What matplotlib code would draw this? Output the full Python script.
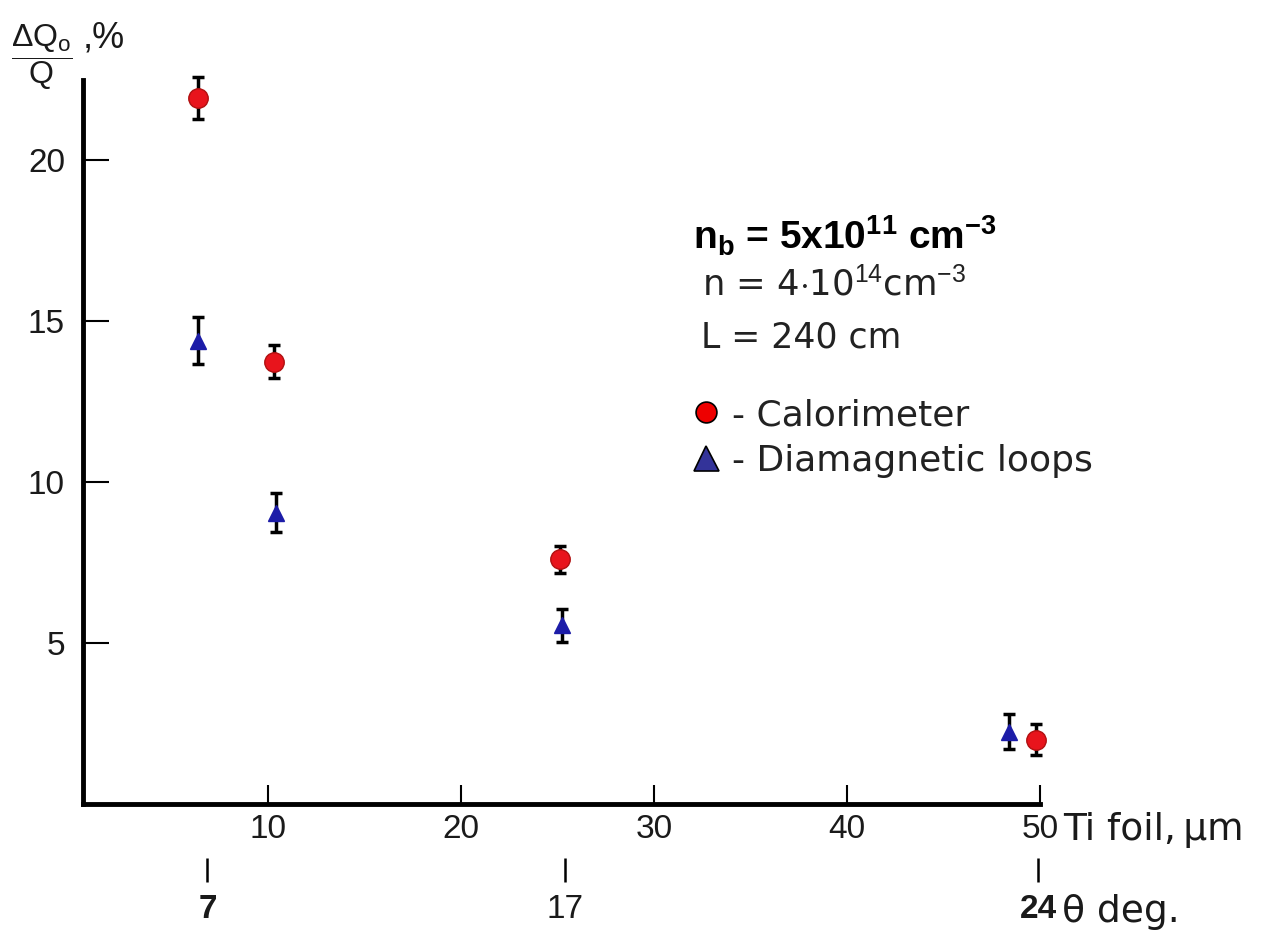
import numpy as np
import matplotlib.pyplot as plt
from matplotlib.lines import Line2D

plt.rcParams['font.family'] = ['Liberation Sans', 'DejaVu Sans']
plt.rcParams['mathtext.fontset'] = 'custom'
plt.rcParams['mathtext.rm'] = 'Liberation Sans'
plt.rcParams['mathtext.it'] = 'Liberation Sans:italic'
plt.rcParams['mathtext.bf'] = 'Liberation Sans:bold'

# --- data ---
cal_x = [6.35, 10.3, 25.1, 49.8]
cal_y = [21.95, 13.75, 7.6, 2.0]
cal_err = [0.65, 0.52, 0.42, 0.48]

dia_x = [6.35, 10.4, 25.2, 48.4]
dia_y = [14.4, 9.05, 5.55, 2.25]
dia_err = [0.72, 0.6, 0.52, 0.55]

x_ticks = [10, 20, 30, 40, 50]
y_ticks = [5, 10, 15, 20]
theta_pos = [6.85, 25.4, 49.9]
theta_labels = ['7', '17', '24']
theta_bold = [True, False, True]

W, H = 1262, 931


def fp(x, y):
    # pixel position -> figure fraction
    return x / W, 1 - y / H


fig = plt.figure(figsize=(W / 100, H / 100), dpi=100)
ax = fig.add_axes([83 / W, 1 - 804 / H, (1040 - 83) / W, (804 - 80) / H])

ax.errorbar(cal_x, cal_y, yerr=cal_err, fmt='o', color='#e8141c', mec='#b01010',
            ms=14, ecolor='black', elinewidth=2.5, capsize=4.5, capthick=2.5,
            clip_on=False, zorder=3)
ax.errorbar(dia_x, dia_y, yerr=dia_err, fmt='^', color='#1c1ca8', mec='#1c1ca8',
            ms=11, ecolor='black', elinewidth=2.5, capsize=4.5, capthick=2.5,
            clip_on=False, zorder=3)

ax.set_xlim(0.4, 50)
ax.set_ylim(0, 22.5)
ax.set_xticks(x_ticks)
ax.set_yticks(y_ticks)
ax.spines['top'].set_visible(False)
ax.spines['right'].set_visible(False)
for s in ['left', 'bottom']:
    ax.spines[s].set_linewidth(3.5)
ax.tick_params(axis='y', direction='in', length=19, width=1.5, pad=13,
               labelsize=24, labelcolor='#1a1a1a')
ax.tick_params(axis='x', direction='in', length=14, width=1.5, pad=7,
               labelsize=24, labelcolor='#1a1a1a')

# theta scale under the foil axis
sec = ax.secondary_xaxis(-0.0746)
sec.spines['bottom'].set_visible(False)
sec.set_xticks(theta_pos)
sec.set_xticklabels(theta_labels)
sec.tick_params(direction='out', length=17, width=1.8, pad=9, labelsize=24,
                labelcolor='#1a1a1a')
for lab, b in zip(sec.get_xticklabels(), theta_bold):
    lab.set_fontweight('bold' if b else 'normal')

# axis titles
fig.text(*fp(11, 57), r'$\dfrac{\Delta \mathrm{Q}_{\mathrm{o}}}{\mathrm{Q}}$', fontsize=23,
         ha='left', va='center', color='#1a1a1a')
fig.text(*fp(83, 48), ',%', fontsize=26, ha='left', va='baseline', color='#1a1a1a')
fig.text(*fp(1063, 840), 'Ti foil,\u2009\u03bcm', fontsize=27, family='DejaVu Sans',
         ha='left', va='baseline', color='#1a1a1a')
fig.text(*fp(1062, 922), '\u03b8 deg.', fontsize=27, family='DejaVu Sans',
         ha='left', va='baseline', color='#1a1a1a')

# annotations
fig.text(*fp(693, 250), r'n$_{\mathbf{b}}$ = 5x10$^{\mathbf{11}}$ cm$^{\mathbf{-3}}$',
         fontsize=28, fontweight='bold', ha='left', va='baseline', color='black')
fig.text(*fp(702, 295), r'n = 4$\cdot$10$^{14}$cm$^{-3}$', fontsize=25.5,
         family='DejaVu Sans', ha='left', va='baseline', color='#222222')
fig.text(*fp(701, 348), 'L = 240 cm', fontsize=25, family='DejaVu Sans',
         ha='left', va='baseline', color='#222222')

handles = [
    Line2D([], [], ls='none', marker='o', ms=15, mfc='#ee0000', mec='black', mew=1.2),
    Line2D([], [], ls='none', marker='^', ms=18, mfc='#333399', mec='black', mew=1.2),
]
ax.legend(handles, ['- Calorimeter', '- Diamagnetic loops'], loc='upper left',
          bbox_to_anchor=fp(690, 398), bbox_transform=fig.transFigure,
          frameon=False, borderpad=0, borderaxespad=0, handlelength=0.9,
          handletextpad=0.25, labelspacing=0.33,
          prop={'family': 'DejaVu Sans', 'size': 26}, labelcolor='#222222')

fig.savefig('out.png', dpi=100)
